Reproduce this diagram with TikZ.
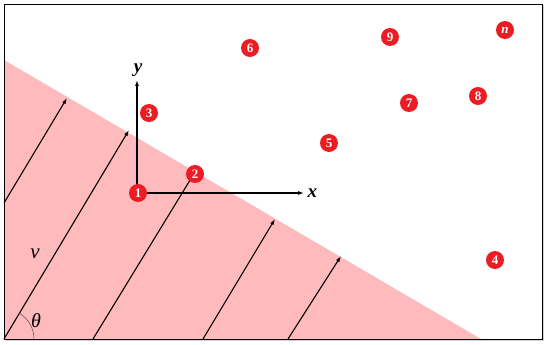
\documentclass[tikz,border=0pt]{standalone}
\usepackage{fontspec}
\setmainfont{Liberation Serif}
\usetikzlibrary{arrows.meta}
\definecolor{pinkfill}{RGB}{255,186,190}
\definecolor{dotred}{RGB}{236,28,36}
\tikzset{
  pt/.style={circle,fill=dotred,text=white,inner sep=0pt,minimum size=18pt,font=\fontsize{13}{13}\selectfont\bfseries},
  vec/.style={line width=1.1pt,-{Latex[length=6pt,width=4pt]}},
  axis/.style={line width=1.1pt,-{Latex[length=6pt,width=4pt]}},
  lbl/.style={font=\fontsize{19}{19}\selectfont\bfseries\itshape}
}
\begin{document}
\begin{tikzpicture}[x=1pt,y=-1pt]
\useasboundingbox (0,0) rectangle (550,345);
% shadow and frame
\fill[black!18] (5.5,5.5) rectangle (544,341);
\fill[white] (4,4) rectangle (542,339);
\fill[pinkfill] (4,60) -- (481,339) -- (4,339) -- cycle;
% coordinates for vectors
\coordinate (a0) at (4,203);  \coordinate (a1) at (67,98);
\coordinate (b0) at (4,339);  \coordinate (b1) at (129,130);
\coordinate (c0) at (93,339); \coordinate (c1) at (195,172);
\coordinate (d0) at (203,339);\coordinate (d1) at (275,219);
\coordinate (e0) at (288,339);\coordinate (e1) at (341,256);
\draw[vec] (a0) -- (a1);
\draw[vec] (b0) -- (b1);
\draw[vec] (c0) -- (c1);
\draw[vec] (d0) -- (d1);
\draw[vec] (e0) -- (e1);
% angle
\draw[line width=0.5pt,black!70] (34,339) arc[start angle=0,end angle=-59,radius=30];
\node[font=\fontsize{20}{20}\selectfont\itshape] (theta) at (36,321) {θ};
\node[font=\fontsize{21}{21}\selectfont\itshape] (v) at (35,254) {v};
% axes
\coordinate (o) at (137,193);
\coordinate (xe) at (304,193);
\coordinate (ye) at (137,80);
\draw[axis] (o) -- (xe);
\draw[axis] (o) -- (ye);
\node[lbl,anchor=west] (xl) at (304,193) {x};
\node[lbl] (yl) at (138,70) {y};
% points
\node[pt] (p1) at (138,193) {1};
\node[pt] (p2) at (195,174) {2};
\node[pt] (p3) at (149,113) {3};
\node[pt] (p4) at (495,260) {4};
\node[pt] (p5) at (329,143) {5};
\node[pt] (p6) at (250,48) {6};
\node[pt] (p7) at (409,103) {7};
\node[pt] (p8) at (478,96) {8};
\node[pt] (p9) at (390,37) {9};
\node[pt,font=\fontsize{13}{13}\selectfont\bfseries\itshape] (pn) at (505,30) {n};
\draw[line width=0.9pt] (4,4) rectangle (542,339);
\end{tikzpicture}
\end{document}
